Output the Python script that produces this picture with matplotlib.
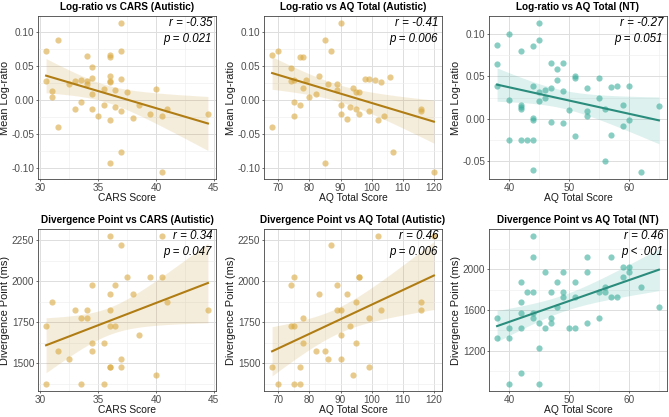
import numpy as np
import matplotlib
matplotlib.use("Agg")
import matplotlib.pyplot as plt

plt.rcParams['font.family'] = ['Liberation Sans', 'DejaVu Sans']

# ---- data ----
# autistic: log-ratio vs CARS
cars_lr_x = [37, 31.5, 30.5, 34, 36, 36, 37, 34.5, 30.5, 31, 31, 32.5, 33, 33.5, 34, 34, 34.5, 36, 36, 36,
             37, 35.5, 36.5, 37.5, 34.5, 33.5, 33, 34.5, 35.5, 36.5, 37, 35, 36, 38.5, 38, 39.5, 40, 40.5, 41, 44.5,
             31.5, 37, 36, 40.5]
cars_lr_y = [0.112, 0.088, 0.072, 0.064, 0.066, 0.063, 0.071, 0.048, 0.027, 0.013, 0.004, 0.023, 0.028, 0.029,
             0.028, 0.024, 0.032, 0.035, 0.028, 0.026, 0.030, 0.016, 0.014, 0.011, 0.008, -0.003, -0.013, -0.013,
             -0.008, -0.011, -0.017, -0.024, -0.029, -0.007, -0.027, -0.020, 0.016, -0.024, -0.014, -0.021,
             -0.039, -0.076, -0.092, -0.105]

# autistic: log-ratio vs AQ
aq_aut_lr_x = [90, 85, 87, 70, 68, 77, 78, 74, 74, 75, 78, 79, 80, 82, 83, 86, 89, 89, 75, 77,
               75, 68, 90, 90, 92, 93, 94, 95, 96, 96, 99, 98, 99, 101, 103, 106, 102, 104, 95, 116,
               116, 107, 85, 120]
aq_aut_lr_y = [0.112, 0.088, 0.071, 0.072, 0.066, 0.063, 0.063, 0.047, 0.027, 0.029, 0.017, 0.029, 0.004,
               0.009, 0.035, 0.023, 0.024, 0.014, -0.003, -0.007, -0.024, -0.039, -0.007, -0.021, -0.028,
               -0.011, 0.017, 0.012, 0.011, -0.020, -0.017, 0.031, 0.030, 0.029, 0.026, 0.033, -0.029,
               -0.024, -0.013, -0.013, -0.016, -0.076, -0.092, -0.105]

# NT: log-ratio vs AQ
aq_nt_lr_x = [45, 40, 38, 45, 44, 42, 38, 38, 40, 47, 49, 48, 48, 51, 51, 55, 44, 45, 46, 47,
              49, 53, 57, 58, 60, 45, 46, 55, 59, 50, 53, 53, 56, 65, 42, 42, 42, 44, 44, 47,
              49, 60, 59, 51, 57, 40, 42, 43, 44, 56, 44, 62]
aq_nt_lr_y = [0.112, 0.099, 0.087, 0.093, 0.086, 0.080, 0.064, 0.038, 0.022, 0.066, 0.065, 0.058, 0.046,
              0.050, 0.048, 0.048, 0.038, 0.032, 0.034, 0.036, 0.033, 0.036, 0.037, 0.038, 0.038, 0.021,
              0.025, 0.024, 0.016, 0.010, 0.009, 0.003, 0.011, 0.015, 0.016, 0.014, 0.011, 0.001, -0.002,
              -0.004, -0.005, -0.002, -0.009, -0.020, -0.019, -0.025, -0.025, -0.025, -0.025, -0.049,
              -0.060, -0.062]

# autistic: divergence point vs CARS
cars_dp_x = [36, 37, 40.5, 37.5, 39.5, 40.5, 34.5, 36.5, 36, 38, 31, 41, 33, 34, 36, 44.5, 33.5, 34, 30.5, 36,
             36.5, 38.5, 34.5, 35.5, 31.5, 34.5, 32.5, 37, 36, 36, 37, 40, 30.5, 33.5, 35.5]
cars_dp_y = [2275, 2225, 2275, 2025, 2025, 2025, 1975, 1975, 1925, 1925, 1875, 1875, 1825, 1825, 1825, 1825,
             1775, 1775, 1725, 1725, 1725, 1675, 1625, 1625, 1575, 1575, 1525, 1525, 1475, 1475, 1475, 1425,
             1375, 1375, 1375]

# autistic: divergence point vs AQ
aq_aut_dp_x = [102, 120, 87, 75, 96, 96, 74, 89, 83, 92, 95, 116, 89, 90, 103, 116, 78, 99, 74, 75,
               93, 78, 95, 90, 82, 85, 86, 90, 68, 77, 99, 94, 70, 75, 77]
aq_aut_dp_y = [2275, 2275, 2225, 2025, 2025, 2025, 1975, 1975, 1925, 1925, 1875, 1875, 1825, 1825, 1825, 1825,
               1775, 1775, 1725, 1725, 1725, 1625, 1625, 1675, 1575, 1575, 1525, 1525, 1475, 1475, 1475, 1425,
               1375, 1375, 1375]

# NT: divergence point vs AQ
aq_nt_dp_x = [44, 44, 53, 57, 59, 60, 60, 59, 46, 49, 53, 42, 48, 51, 43, 44, 47, 49, 49, 51,
              56, 55, 56, 57, 58, 62, 42, 48, 38, 42, 44, 44, 45, 47, 47, 40, 42, 46, 50, 51,
              53, 55, 38, 40, 45, 42, 40, 45, 65]
aq_nt_dp_y = [2325, 2125, 2125, 2125, 2025, 2025, 1975, 1925, 1975, 1975, 1975, 1875, 1875, 1875, 1775, 1775,
              1775, 1775, 1725, 1725, 1825, 1775, 1775, 1725, 1725, 1825, 1675, 1625, 1525, 1575, 1575, 1525,
              1475, 1525, 1475, 1425, 1425, 1425, 1425, 1425, 1475, 1525, 1325, 1325, 1225, 975, 875, 875, 1625]

titles = ["Log-ratio vs CARS (Autistic)", "Log-ratio vs AQ Total (Autistic)", "Log-ratio vs AQ Total (NT)",
          "Divergence Point vs CARS (Autistic)", "Divergence Point vs AQ Total (Autistic)",
          "Divergence Point vs AQ Total (NT)"]
stats = [("-0.35", "= 0.021"), ("-0.41", "= 0.006"), ("-0.27", "= 0.051"),
         ("0.34", "= 0.047"), ("0.46", "= 0.006"), ("0.46", "< .001")]

AUT = dict(pt="#D9A93F", line="#B07D14", fill="#C9962E")
NT = dict(pt="#3BAE9C", line="#2A8C7C", fill="#3BAE9C")


def t975(df):
    z = 1.959964
    return z + (z**3 + z) / (4 * df) + (5 * z**5 + 16 * z**3 + 3 * z) / (96 * df**2)


def panel(rect, x, y, col, title, stat, xlabel, ylabel, xticks, yticks, ylabs):
    ax = fig.add_axes(rect)
    x = np.array(x, float)
    y = np.array(y, float)
    n = len(x)
    b, a = np.polyfit(x, y, 1)
    xs = np.linspace(x.min(), x.max(), 80)
    fit = a + b * xs
    resid = y - (a + b * x)
    s = np.sqrt(np.sum(resid**2) / (n - 2))
    sxx = np.sum((x - x.mean())**2)
    se = s * np.sqrt(1 / n + (xs - x.mean())**2 / sxx)
    lo, hi = fit - t975(n - 2) * se, fit + t975(n - 2) * se

    ax.fill_between(xs, lo, hi, color=col["fill"], alpha=0.17, lw=0, zorder=2)
    ax.scatter(x, y, s=20, color=col["pt"], alpha=0.6, lw=0, zorder=3)
    ax.plot(xs, fit, color=col["line"], lw=1.5, zorder=4)

    ax.set_xticks(xticks)
    ax.set_yticks(yticks)
    ax.set_yticklabels(ylabs)
    xm = [(xticks[i] + xticks[i + 1]) / 2 for i in range(len(xticks) - 1)]
    xm = [xticks[0] - (xticks[1] - xticks[0]) / 2] + xm + [xticks[-1] + (xticks[1] - xticks[0]) / 2]
    ym = [(yticks[i] + yticks[i + 1]) / 2 for i in range(len(yticks) - 1)]
    ym = [yticks[0] - (yticks[1] - yticks[0]) / 2] + ym + [yticks[-1] + (yticks[1] - yticks[0]) / 2]
    ax.set_xticks(xm, minor=True)
    ax.set_yticks(ym, minor=True)

    # ggplot-like 5% expansion (set after ticks so the minor ticks don't widen the view)
    xr = x.max() - x.min()
    ax.set_xlim(x.min() - 0.05 * xr, x.max() + 0.05 * xr)
    ymin, ymax = min(y.min(), lo.min()), max(y.max(), hi.max())
    yr = ymax - ymin
    ax.set_ylim(ymin - 0.05 * yr, ymax + 0.05 * yr)

    ax.grid(which="major", color="#DDDDDD", lw=0.7, zorder=0)
    ax.grid(which="minor", color="#EEEEEE", lw=0.45, zorder=0)
    ax.set_axisbelow(True)
    ax.tick_params(which="major", length=1.6, width=0.5, color="#333333", labelsize=7.2,
                   labelcolor="#4D4D4D", pad=1)
    ax.tick_params(which="minor", length=0)
    for sp in ax.spines.values():
        sp.set_color("#444444")
        sp.set_linewidth(0.6)

    ax.set_title(title, fontsize=7.2, fontweight="bold", pad=4.5)
    ax.set_xlabel(xlabel, fontsize=7.4, color="#1A1A1A", labelpad=0.5)
    ax.set_ylabel(ylabel, fontsize=7.9, color="#1A1A1A", labelpad=1.2)
    ax.text(0.978, 0.956, "r = " + stat[0], transform=ax.transAxes, ha="right", va="center",
            fontsize=8.3, style="italic", zorder=5)
    ax.text(0.978, 0.858, "p " + stat[1], transform=ax.transAxes, ha="right", va="center",
            fontsize=8.3, style="italic", zorder=5)
    return ax


W, H = 669, 417
fig = plt.figure(figsize=(W / 100, H / 100), dpi=100)


def rect(l, t, r, b):
    return [l / W, 1 - b / H, (r - l) / W, (b - t) / H]


lr_ticks = [-0.10, -0.05, 0.00, 0.05, 0.10]
lr_labs = ["-0.10", "-0.05", "0.00", "0.05", "0.10"]
cols = [(38, 216), (264, 442), (489, 667)]
top_row = (16, 179)
bot_row = (229, 391)

panel(rect(cols[0][0], top_row[0], cols[0][1], top_row[1]), cars_lr_x, cars_lr_y, AUT, titles[0], stats[0],
      "CARS Score", "Mean Log-ratio", [30, 35, 40, 45], lr_ticks, lr_labs)
panel(rect(cols[1][0], top_row[0], cols[1][1], top_row[1]), aq_aut_lr_x, aq_aut_lr_y, AUT, titles[1], stats[1],
      "AQ Total Score", "Mean Log-ratio", [70, 80, 90, 100, 110, 120], lr_ticks, lr_labs)
panel(rect(cols[2][0], top_row[0], cols[2][1], top_row[1]), aq_nt_lr_x, aq_nt_lr_y, NT, titles[2], stats[2],
      "AQ Total Score", "Mean Log-ratio", [40, 50, 60], lr_ticks[1:], lr_labs[1:])

dp_ticks = [1500, 1750, 2000, 2250]
panel(rect(cols[0][0], bot_row[0], cols[0][1], bot_row[1]), cars_dp_x, cars_dp_y, AUT, titles[3], stats[3],
      "CARS Score", "Divergence Point (ms)", [30, 35, 40, 45], dp_ticks, [str(v) for v in dp_ticks])
panel(rect(cols[1][0], bot_row[0], cols[1][1], bot_row[1]), aq_aut_dp_x, aq_aut_dp_y, AUT, titles[4], stats[4],
      "AQ Total Score", "Divergence Point (ms)", [70, 80, 90, 100, 110, 120], dp_ticks,
      [str(v) for v in dp_ticks])
nt_ticks = [1200, 1600, 2000]
panel(rect(cols[2][0], bot_row[0], cols[2][1], bot_row[1]), aq_nt_dp_x, aq_nt_dp_y, NT, titles[5], stats[5],
      "AQ Total Score", "Divergence Point (ms)", [40, 50, 60], nt_ticks, [str(v) for v in nt_ticks])

fig.savefig("out.png", dpi=100)
